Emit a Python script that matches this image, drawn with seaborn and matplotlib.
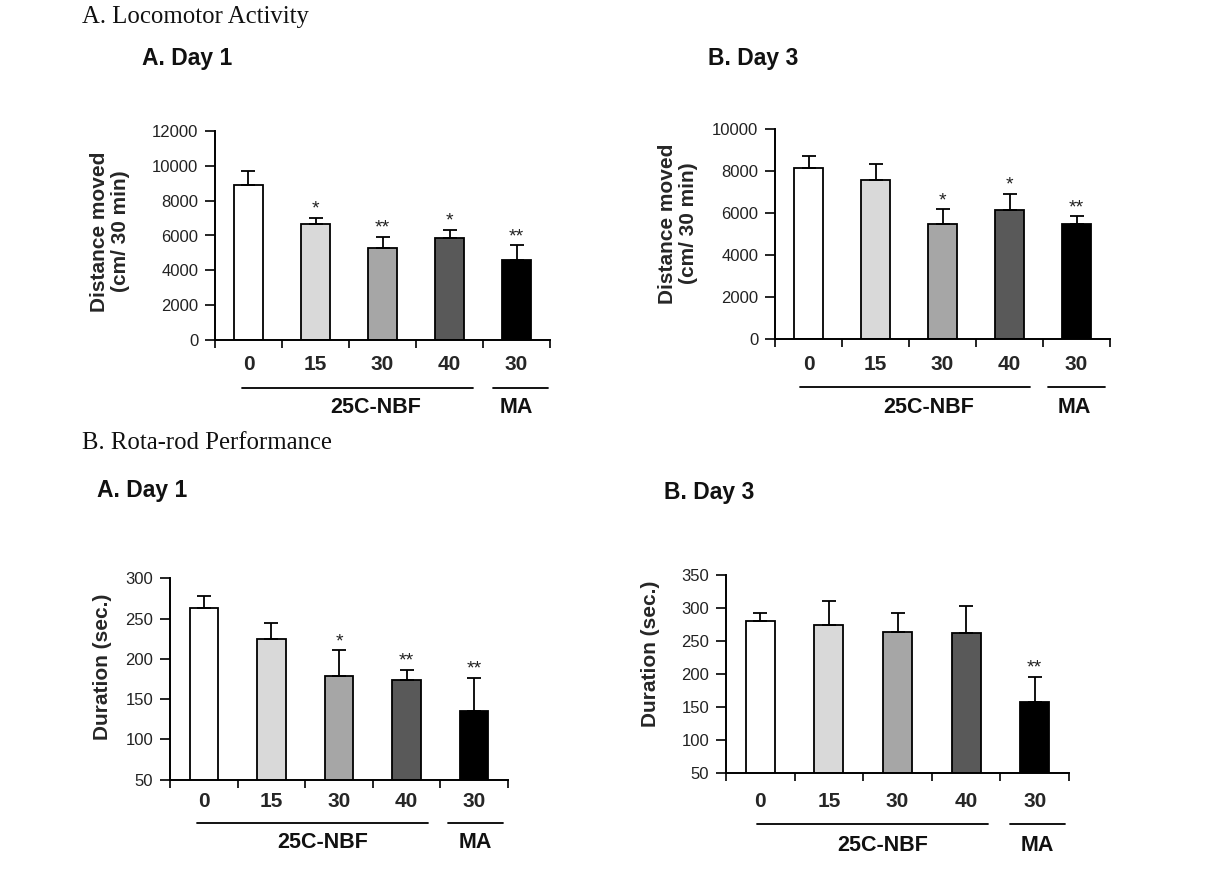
import numpy as np
import matplotlib
matplotlib.use("Agg")
import matplotlib.pyplot as plt
import seaborn as sns

# ---------------- data ----------------
categories = ["0", "15", "30", "40", "MA 30"]
tick_labels = ["0", "15", "30", "40", "30"]
bar_colors = ["#ffffff", "#d9d9d9", "#a6a6a6", "#595959", "#000000"]

loc_day1_mean = [8880, 6640, 5270, 5860, 4580]
loc_day1_sem = [800, 380, 670, 480, 860]
loc_day1_sig = ["", "*", "**", "*", "**"]

loc_day3_mean = [8140, 7570, 5450, 6120, 5450]
loc_day3_sem = [590, 750, 730, 790, 400]
loc_day3_sig = ["", "", "*", "*", "**"]

rota_day1_mean = [263.6, 225.1, 178.4, 174.2, 135.7]
rota_day1_sem = [15.0, 19.5, 32.0, 12.4, 40.6]
rota_day1_sig = ["", "", "*", "**", "**"]

rota_day3_mean = [280.2, 274.1, 264.0, 261.5, 157.3]
rota_day3_sem = [12.6, 36.4, 28.8, 41.5, 38.4]
rota_day3_sig = ["", "", "", "", "**"]

group_names = ["25C-NBF", "MA"]

sns.set_theme(style="white")
plt.rcParams["font.family"] = ["Liberation Sans", "DejaVu Sans"]

W, H = 1224, 869
fig = plt.figure(figsize=(W / 100, H / 100), dpi=100)


def px_axes(x0, y0, x1, y1):
    return fig.add_axes([x0 / W, 1 - y1 / H, (x1 - x0) / W, (y1 - y0) / H])


def draw_panel(ax, means, sems, sigs, ylim, ystep, ylabel, ylab_xy,
               tick_pad, line_off, grp_off, lines, grp_x, axes_h_px):
    sns.barplot(x=categories, y=means, hue=categories, order=categories,
                hue_order=categories, palette=bar_colors, edgecolor="black",
                linewidth=1.3, width=0.42, legend=False, ax=ax, saturation=1)
    xs = np.arange(len(means))
    ax.errorbar(xs, means, yerr=[np.zeros(len(sems)), sems], fmt="none",
                ecolor="black", elinewidth=1.3, capsize=5, capthick=1.3, zorder=5)
    for x, m, s, sig in zip(xs, means, sems, sigs):
        if sig:
            ax.annotate(sig, xy=(x, m + s), xytext=(0, 0), textcoords="offset points",
                        ha="center", va="bottom", fontsize=14, color="#222222")
    ax.set_xlim(-0.5, 4.5)
    ax.set_ylim(*ylim)
    ax.set_yticks(np.arange(ylim[0], ylim[1] + 0.1, ystep))
    ax.set_xticks(xs)
    ax.set_xticklabels(tick_labels, fontsize=15, fontweight="bold")
    ax.set_xticks(np.arange(-0.5, 5, 1.0), minor=True)
    ax.tick_params(axis="x", which="major", length=0, pad=tick_pad)
    ax.tick_params(axis="x", which="minor", length=6, width=1.2, direction="out",
                   bottom=True, color="black")
    ax.tick_params(axis="y", length=7, width=1.2, direction="out", left=True,
                   labelsize=12, color="black", labelcolor="#222222", pad=5)
    ax.set_xlabel("")
    ax.set_ylabel(ylabel, fontsize=15, fontweight="bold", linespacing=1.1)
    ax.yaxis.set_label_coords(*ylab_xy)
    for side in ["top", "right"]:
        ax.spines[side].set_visible(False)
    for side in ["left", "bottom"]:
        ax.spines[side].set_color("black")
        ax.spines[side].set_linewidth(1.4)
    trans = ax.get_xaxis_transform()
    yl = -line_off / axes_h_px
    yg = -grp_off / axes_h_px
    for (a, b) in lines:
        ax.plot([a, b], [yl, yl], color="black", lw=1.3, transform=trans, clip_on=False)
    for name, gx in zip(group_names, grp_x):
        ax.text(gx, yg, name, transform=trans, ha="center", va="center",
                fontsize=15.5, fontweight="bold", color="#111111")


axA = px_axes(215, 131, 550, 340)
draw_panel(axA, loc_day1_mean, loc_day1_sem, loc_day1_sig, (0, 12000), 2000,
           "Distance moved\n(cm/ 30 min)", (-0.254, 0.52), 11, 48, 68,
           [(-0.1, 3.35), (3.65, 4.47)], [1.9, 4.0], 209)

axB = px_axes(775, 129, 1110, 338.7)
draw_panel(axB, loc_day3_mean, loc_day3_sem, loc_day3_sig, (0, 10000), 2000,
           "Distance moved\n(cm/ 30 min)", (-0.23, 0.55), 12, 48, 69,
           [(-0.13, 3.3), (3.57, 4.43)], [1.8, 3.97], 209.7)

axC = px_axes(170, 578.3, 508, 779.7)
draw_panel(axC, rota_day1_mean, rota_day1_sem, rota_day1_sig, (50, 300), 50,
           "Duration (sec.)", (-0.172, 0.56), 9, 43, 63,
           [(-0.1, 3.32), (3.61, 4.43)], [1.76, 4.02], 201.4)

axD = px_axes(726, 575, 1069, 772.7)
draw_panel(axD, rota_day3_mean, rota_day3_sem, rota_day3_sig, (50, 350), 50,
           "Duration (sec.)", (-0.192, 0.6), 14, 51, 73,
           [(-0.05, 3.32), (3.64, 4.44)], [1.79, 4.04], 197.7)

serif = ["Liberation Serif", "DejaVu Serif"]
fig.text(82 / W, 1 - 17 / H, "A. Locomotor Activity", family=serif, fontsize=17.8,
         ha="left", va="center", color="#111111")
fig.text(82 / W, 1 - 443 / H, "B. Rota-rod Performance", family=serif, fontsize=17.8,
         ha="left", va="center", color="#111111")
for x, y, t in [(142, 58, "A. Day 1"), (708, 58, "B. Day 3"),
                (97, 490, "A. Day 1"), (664, 492, "B. Day 3")]:
    fig.text(x / W, 1 - y / H, t, fontsize=16.5, fontweight="bold",
             ha="left", va="center", color="#111111")

fig.savefig("out.png", dpi=100, facecolor="white")
